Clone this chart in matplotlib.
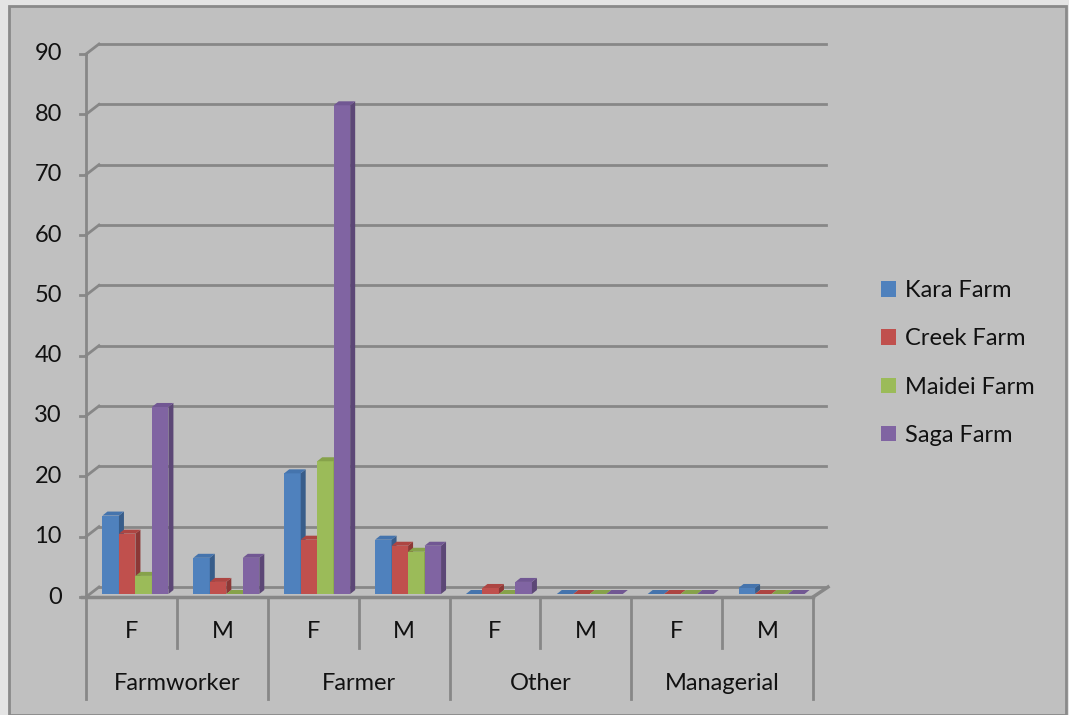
#!/usr/bin/env python3
"""Workers by role and sex on four farms, Excel-style 3D clustered columns."""

import matplotlib
matplotlib.use("Agg")
import matplotlib.pyplot as plt
from matplotlib import transforms
from matplotlib.patches import Rectangle, Polygon, Patch

groups = ["Farmworker", "Farmer", "Other", "Managerial"]
sexes = ["F", "M"]
farms = ["Kara Farm", "Creek Farm", "Maidei Farm", "Saga Farm"]

kara = [13, 6, 20, 9, 0, 0, 0, 1]
creek = [10, 2, 9, 8, 1, 0, 0, 0]
maidei = [3, 0, 22, 7, 0, 0, 0, 0]
saga = [31, 6, 81, 8, 2, 0, 0, 0]

y_ticks = list(range(0, 100, 10))

# front / top / side shades per series
shades = [
    ("#4F81BD", "#4574AD", "#385D8A"),
    ("#C0504D", "#AD4542", "#8C3836"),
    ("#9BBB59", "#86A24A", "#71893F"),
    ("#8064A2", "#715793", "#5C4776"),
]

W, H = 1069, 715
DPI = 100
FS = 17
plt.rcParams["font.family"] = ["Lato", "DejaVu Sans"]

fig = plt.figure(figsize=(W / DPI, H / DPI), dpi=DPI)
fig.patch.set_facecolor("#E4E4E4")
fig.patches.append(Rectangle((9 / W, 0), (1066 - 9) / W, (H - 6) / H,
                             transform=fig.transFigure, facecolor="#C0C0C0",
                             edgecolor="#8A8A8A", linewidth=2, zorder=-5))

# front plane of the plot: x 86..813 px, value 0 at y=597, 90 at y=54
x0, x1, y0, y1 = 86, 813, 597, 54
ax = fig.add_axes([x0 / W, (H - y0) / H, (x1 - x0) / W, (y0 - y1) / H])
ax.set_xlim(0, 8)
ax.set_ylim(0, 90)
ax.axis("off")
ax.patch.set_visible(False)

ppx = (x1 - x0) / 8
ppy = (y0 - y1) / 90


def shifted(dx, dy):
    # dx to the right, dy upwards, both in pixels
    return ax.transData + transforms.ScaledTranslation(dx / DPI, dy / DPI, fig.dpi_scale_trans)


grid_c = "#878787"
back = shifted(13, 10)
for v in y_ticks:
    ax.plot([0, 8], [v, v], color=grid_c, lw=2, transform=back, clip_on=False, zorder=1)
    ax.plot([0, 13 / ppx], [v, v + 10 / ppy], color=grid_c, lw=2, clip_on=False, zorder=1)
    ax.plot([-6 / ppx, 0], [v, v], color=grid_c, lw=2, clip_on=False, zorder=1)
    ax.text(-24 / ppx, v, str(v), ha="right", va="center", fontsize=FS, color="#111111")

# walls edges and floor
ax.plot([0, 0], [0, 90], color=grid_c, lw=2, clip_on=False, zorder=1)
ax.plot([-4 / ppx, 8], [0, 0], color=grid_c, lw=2.5, clip_on=False, zorder=1)
ax.plot([8, 8 + 15 / ppx], [0, 10 / ppy], color=grid_c, lw=2.5, clip_on=False, zorder=1)

# columns
bw = 0.1815
margin = (1 - 4 * bw) / 2
ddx, ddy = 5 / ppx, 4 / ppy
bar_tr = shifted(4, 3)
series = [kara, creek, maidei, saga]
z = 3
for i in range(8):
    for j, vals in enumerate(series):
        v = vals[i]
        xl = i + margin + j * bw
        front_c, top_c, side_c = shades[j]
        ax.add_patch(Rectangle((xl, 0), bw, v, facecolor=front_c, edgecolor="none",
                               transform=bar_tr, zorder=z, clip_on=False))
        ax.add_patch(Polygon([(xl + bw, 0), (xl + bw, v), (xl + bw + ddx, v + ddy),
                              (xl + bw + ddx, ddy)], closed=True, facecolor=side_c,
                             edgecolor="none", transform=bar_tr, zorder=z, clip_on=False))
        ax.add_patch(Polygon([(xl, v), (xl + bw, v), (xl + bw + ddx, v + ddy),
                              (xl + ddx, v + ddy)], closed=True, facecolor=top_c,
                             edgecolor="none", transform=bar_tr, zorder=z, clip_on=False))
        z += 1

# two-level category axis below the floor
below = transforms.blended_transform_factory(ax.transData, fig.dpi_scale_trans)


def py(p):
    return (H - p) / DPI


for k in range(9):
    bottom = 699 if k % 2 == 0 else 648
    ax.plot([k, k], [py(y0), py(bottom)], color=grid_c, lw=2,
            transform=below, clip_on=False, zorder=1)
for k in range(8):
    ax.text(k + 0.5, py(631), sexes[k % 2], ha="center", va="center",
            fontsize=FS, color="#111111", transform=below)
for g, name in enumerate(groups):
    ax.text(2 * g + 1, py(684), name, ha="center", va="center",
            fontsize=FS, color="#111111", transform=below)

handles = [Patch(facecolor=s[0], edgecolor="none") for s in shades]
fig.legend(handles, farms, loc="center left", bbox_to_anchor=(860 / W, (H - 363) / H),
           frameon=False, fontsize=FS, handlelength=0.62, handleheight=0.62,
           handletextpad=0.4, labelspacing=1.15, labelcolor="#111111")

fig.savefig("out.png", dpi=DPI, facecolor=fig.get_facecolor())
